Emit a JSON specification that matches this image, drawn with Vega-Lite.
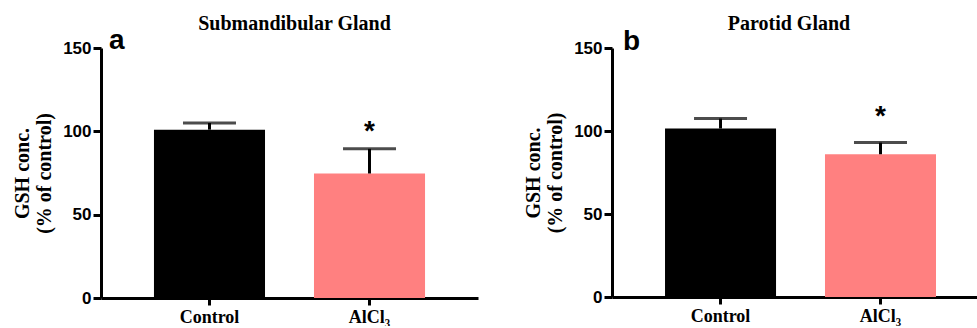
{
  "$schema": "https://vega.github.io/schema/vega-lite/v6.json",
  "padding": {"left": 12, "top": 14, "right": 0, "bottom": 0},
  "spacing": 45,
  "config": {
    "view": {"stroke": null},
    "axis": {"domainColor": "#000", "domainWidth": 3, "tickColor": "#000", "tickWidth": 3, "grid": false, "labelColor": "#000", "titleColor": "#000"},
    "axisX": {"tickSize": 7, "labelAngle": 0, "labelFont": "Liberation Serif", "labelFontWeight": "bold", "labelFontSize": 18, "labelPadding": 3, "title": null},
    "axisY": {"tickSize": 8, "labelFont": "Liberation Sans", "labelFontWeight": "bold", "labelFontSize": 17, "labelPadding": 2, "titleFont": "Liberation Serif", "titleFontWeight": "bold", "titleFontSize": 20, "titlePadding": 8},
    "title": {"font": "Liberation Serif", "fontWeight": "bold", "fontSize": 20, "color": "#000", "anchor": "middle"}
  },
  "datasets": {
    "submandibular": [
      {"group": "Control", "mean": 101, "upper": 105, "sig": ""},
      {"group": "AlCl₃", "mean": 74.7, "upper": 89.5, "sig": "*"}
    ],
    "parotid": [
      {"group": "Control", "mean": 101.5, "upper": 107.5, "sig": ""},
      {"group": "AlCl₃", "mean": 86, "upper": 93, "sig": "*"}
    ]
  },
  "hconcat": [
    {
      "width": 377,
      "height": 250,
      "title": {"text": "Submandibular Gland", "offset": -7, "dx": 5},
      "data": {"name": "submandibular"},
      "encoding": {
        "x": {"field": "group", "type": "nominal", "sort": ["Control", "AlCl₃"], "scale": {"paddingInner": 0.306, "paddingOuter": 0.331, "align": 0.5}}
      },
      "layer": [
        {"mark": {"type": "bar"}, "encoding": {"y": {"field": "mean", "type": "quantitative", "title": ["GSH conc.", "(% of control)"], "scale": {"domain": [0, 150], "nice": false}, "axis": {"values": [0, 50, 100, 150]}}, "color": {"field": "group", "type": "nominal", "scale": {"domain": ["Control", "AlCl₃"], "range": ["#000000", "#FF8080"]}, "legend": null}}},
        {"mark": {"type": "rule", "strokeWidth": 3, "color": "#000"}, "encoding": {"y": {"field": "mean", "type": "quantitative", "title": ["GSH conc.", "(% of control)"]}, "y2": {"field": "upper"}}},
        {"mark": {"type": "tick", "thickness": 3, "size": 53, "color": "#000"}, "encoding": {"y": {"field": "upper", "type": "quantitative", "title": ["GSH conc.", "(% of control)"]}}},
        {"mark": {"type": "text", "font": "Liberation Sans", "fontWeight": "bold", "fontSize": 28, "dy": -9, "baseline": "alphabetic", "color": "#000"}, "encoding": {"y": {"field": "upper", "type": "quantitative", "title": ["GSH conc.", "(% of control)"]}, "text": {"field": "sig"}}},
        {"data": {"values": [{"panel": "a"}]}, "mark": {"type": "text", "font": "Liberation Sans", "fontWeight": "bold", "fontSize": 28, "align": "left", "baseline": "alphabetic", "dx": -45, "dy": 1, "color": "#000"}, "encoding": {"x": {"datum": "Control", "bandPosition": 0}, "y": {"datum": 150}, "text": {"field": "panel"}}}
      ]
    },
    {
      "width": 366,
      "height": 249,
      "title": {"text": "Parotid Gland", "offset": -6, "dx": -6},
      "data": {"name": "parotid"},
      "encoding": {
        "x": {"field": "group", "type": "nominal", "sort": ["Control", "AlCl₃"], "scale": {"paddingInner": 0.306, "paddingOuter": 0.297, "align": 0.558}}
      },
      "layer": [
        {"mark": {"type": "bar"}, "encoding": {"y": {"field": "mean", "type": "quantitative", "title": ["GSH conc.", "(% of control)"], "scale": {"domain": [0, 150], "nice": false}, "axis": {"values": [0, 50, 100, 150]}}, "color": {"field": "group", "type": "nominal", "scale": {"domain": ["Control", "AlCl₃"], "range": ["#000000", "#FF8080"]}, "legend": null}}},
        {"mark": {"type": "rule", "strokeWidth": 3, "color": "#000"}, "encoding": {"y": {"field": "mean", "type": "quantitative", "title": ["GSH conc.", "(% of control)"]}, "y2": {"field": "upper"}}},
        {"mark": {"type": "tick", "thickness": 3, "size": 53, "color": "#000"}, "encoding": {"y": {"field": "upper", "type": "quantitative", "title": ["GSH conc.", "(% of control)"]}}},
        {"mark": {"type": "text", "font": "Liberation Sans", "fontWeight": "bold", "fontSize": 28, "dy": -18, "baseline": "alphabetic", "color": "#000"}, "encoding": {"y": {"field": "upper", "type": "quantitative", "title": ["GSH conc.", "(% of control)"]}, "text": {"field": "sig"}}},
        {"data": {"values": [{"panel": "b"}]}, "mark": {"type": "text", "font": "Liberation Sans", "fontWeight": "bold", "fontSize": 28, "align": "left", "baseline": "alphabetic", "dx": -42, "dy": 2, "color": "#000"}, "encoding": {"x": {"datum": "Control", "bandPosition": 0}, "y": {"datum": 150}, "text": {"field": "panel"}}}
      ]
    }
  ]
}
